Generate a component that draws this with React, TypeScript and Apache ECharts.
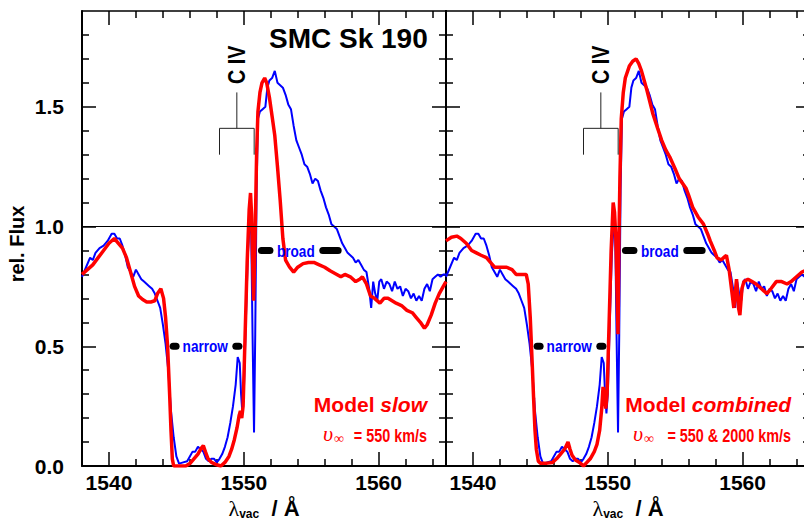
import React, { useEffect, useRef } from "react";
import * as echarts from "echarts";

// ---------- axes ----------
const X_MIN = 1538;
const X_MAX = 1565;
const Y_MIN = 0;
const Y_MAX = 1.9;
const xMajorTicks = [1540, 1550, 1560];
const xMinorTicks = [1538, 1542, 1544, 1546, 1548, 1552, 1554, 1556, 1558, 1562, 1564];
const yMajorTicks = [0, 0.5, 1.0, 1.5];
const yMinorTicks = [0.1, 0.2, 0.3, 0.4, 0.6, 0.7, 0.8, 0.9, 1.1, 1.2, 1.3, 1.4, 1.6, 1.7, 1.8];

// ---------- observed spectrum (blue) ----------
const observedWave = [
  1538.0, 1538.3, 1538.6, 1538.8, 1539.0, 1539.3, 1539.6, 1539.9, 1540.2, 1540.4,
  1540.6, 1540.8, 1541.0, 1541.2, 1541.4, 1541.6, 1541.8, 1542.0, 1542.2, 1542.4,
  1542.6, 1542.8, 1543.0, 1543.2, 1543.4, 1543.6, 1543.8, 1544.0, 1544.2, 1544.4,
  1544.6, 1544.8, 1545.0, 1545.2, 1545.5, 1545.8, 1546.0, 1546.2, 1546.4, 1546.6,
  1546.8, 1547.0, 1547.2, 1547.4, 1547.6, 1547.8, 1548.0, 1548.2, 1548.4, 1548.6,
  1548.8, 1549.0, 1549.2, 1549.4, 1549.55, 1549.7, 1549.8, 1549.9, 1550.0, 1550.15,
  1550.3, 1550.45, 1550.55, 1550.65, 1550.76, 1550.85, 1550.95, 1551.05, 1551.2, 1551.4,
  1551.6, 1551.75, 1551.9, 1552.1, 1552.3, 1552.5, 1552.7, 1552.9, 1553.1, 1553.3,
  1553.5, 1553.7, 1553.9, 1554.1, 1554.3, 1554.5, 1554.7, 1554.9, 1555.1, 1555.3,
  1555.5, 1555.7, 1555.9, 1556.1, 1556.3, 1556.5, 1556.7, 1556.9, 1557.1, 1557.3,
  1557.5, 1557.7, 1557.9, 1558.1, 1558.3, 1558.5, 1558.7, 1558.9, 1559.1, 1559.3,
  1559.45, 1559.6, 1559.75, 1559.9, 1560.05, 1560.2, 1560.4, 1560.6, 1560.8, 1561.0,
  1561.2, 1561.4, 1561.6, 1561.8, 1562.0, 1562.2, 1562.4, 1562.6, 1562.8, 1563.0,
  1563.2, 1563.4, 1563.6, 1563.8, 1564.0, 1564.2, 1564.4, 1564.6, 1564.8, 1565.0,
];
const observedFlux = [
  0.79, 0.83, 0.87, 0.86, 0.89, 0.91, 0.92, 0.94, 0.97, 0.97,
  0.95, 0.95, 0.92, 0.88, 0.83, 0.81, 0.79, 0.82, 0.80, 0.78,
  0.77, 0.76, 0.75, 0.74, 0.72, 0.69, 0.66, 0.59, 0.51, 0.40,
  0.23, 0.12, 0.04, 0.01, 0.015, 0.02, 0.04, 0.06, 0.06, 0.08,
  0.07, 0.06, 0.03, 0.02, 0.03, 0.03, 0.015, 0.03, 0.05, 0.08,
  0.12, 0.18, 0.25, 0.34, 0.455, 0.43, 0.30, 0.22, 0.30, 0.60,
  0.88, 1.02, 0.98, 0.55, 0.14, 0.55, 1.15, 1.45, 1.48, 1.49,
  1.50, 1.58, 1.61, 1.62, 1.65, 1.60, 1.59, 1.58, 1.55, 1.51,
  1.49, 1.42, 1.36, 1.33, 1.30, 1.26, 1.25, 1.22, 1.18, 1.20,
  1.19, 1.15, 1.12, 1.08, 1.05, 1.01, 1.00, 0.99, 0.96, 0.93,
  0.91, 0.89, 0.88, 0.87, 0.85, 0.86, 0.84, 0.82, 0.81, 0.74,
  0.66, 0.77, 0.72, 0.69, 0.77, 0.78, 0.74, 0.77, 0.76, 0.73,
  0.77, 0.74, 0.75, 0.71, 0.74, 0.73, 0.70, 0.72, 0.69, 0.71,
  0.69, 0.74, 0.76, 0.73, 0.78, 0.79, 0.80, 0.79, 0.80, 0.80,
];

// ---------- model "slow" (red, left panel) ----------
const slowWave = [
  1538.0, 1538.4, 1538.8, 1539.2, 1539.6, 1540.0, 1540.4, 1540.7, 1541.0, 1541.3,
  1541.6, 1541.9, 1542.2, 1542.5, 1542.8, 1543.1, 1543.4, 1543.6, 1543.85, 1544.05,
  1544.2, 1544.35, 1544.5, 1544.6, 1544.7, 1544.8, 1545.2, 1545.7, 1546.0, 1546.3,
  1546.6, 1546.85, 1547.0, 1547.15, 1547.35, 1547.6, 1548.0, 1548.3, 1548.6, 1548.9,
  1549.1, 1549.3, 1549.5, 1549.65, 1549.75, 1549.85, 1549.95, 1550.1, 1550.25, 1550.4,
  1550.5, 1550.58, 1550.66, 1550.73, 1550.8, 1550.87, 1550.95, 1551.05, 1551.2, 1551.35,
  1551.55, 1551.7, 1551.9, 1552.1, 1552.3, 1552.5, 1552.7, 1552.9, 1553.1, 1553.4,
  1553.7, 1554.0, 1554.4, 1554.8, 1555.2, 1555.6, 1556.0, 1556.4, 1556.9, 1557.2,
  1557.5, 1557.9, 1558.3, 1558.6, 1558.8, 1559.1, 1559.4, 1559.7, 1560.1, 1560.4,
  1560.7, 1561.0, 1561.3, 1561.7, 1562.1, 1562.5, 1562.8, 1563.1, 1563.4, 1563.6,
  1563.9, 1564.2, 1564.5, 1564.8, 1565.0,
];
const slowFlux = [
  0.80, 0.82, 0.84, 0.87, 0.90, 0.93, 0.95, 0.93, 0.91, 0.87,
  0.81, 0.75, 0.71, 0.695, 0.685, 0.685, 0.69, 0.72, 0.74, 0.70,
  0.62, 0.50, 0.30, 0.15, 0.03, 0.0, 0.0, 0.0, 0.01, 0.03,
  0.05, 0.075, 0.085, 0.06, 0.03, 0.015, 0.005, 0.0, 0.015, 0.04,
  0.07, 0.11, 0.16, 0.21, 0.23, 0.20, 0.25, 0.55, 0.85, 1.07,
  1.14, 1.05, 0.85, 0.69, 0.85, 1.05, 1.30, 1.48, 1.56, 1.60,
  1.62, 1.60, 1.54, 1.46, 1.38, 1.25, 1.11, 0.95, 0.86, 0.83,
  0.81, 0.83, 0.845, 0.85, 0.85, 0.84, 0.83, 0.815, 0.80, 0.79,
  0.80, 0.79, 0.77, 0.78, 0.79, 0.76, 0.71, 0.70, 0.68, 0.70,
  0.70, 0.69, 0.68, 0.67, 0.65, 0.64, 0.62, 0.60, 0.575, 0.59,
  0.63, 0.68, 0.72, 0.75, 0.77,
];

// ---------- model "combined" (red, right panel) ----------
const combinedWave = [
  1538.0, 1538.4, 1538.8, 1539.1, 1539.5, 1539.9, 1540.25, 1540.6, 1541.0, 1541.3,
  1541.6, 1542.0, 1542.5, 1542.9, 1543.2, 1543.6, 1543.95, 1544.1, 1544.25, 1544.4,
  1544.5, 1544.6, 1544.7, 1544.85, 1545.0, 1545.5, 1545.9, 1546.2, 1546.5, 1546.8,
  1547.05, 1547.2, 1547.35, 1547.6, 1547.9, 1548.2, 1548.45, 1548.7, 1549.0, 1549.2,
  1549.4, 1549.55, 1549.65, 1549.75, 1549.85, 1549.95, 1550.1, 1550.25, 1550.4, 1550.5,
  1550.6, 1550.7, 1550.76, 1550.83, 1550.9, 1551.0, 1551.15, 1551.3, 1551.6, 1551.85,
  1552.1, 1552.3, 1552.5, 1552.9, 1553.35, 1553.7, 1554.0, 1554.3, 1554.6, 1555.0,
  1555.3, 1555.8, 1556.0, 1556.3, 1556.7, 1557.1, 1557.4, 1557.6, 1557.9, 1558.1,
  1558.4, 1558.6, 1558.8, 1559.0, 1559.2, 1559.35, 1559.45, 1559.55, 1559.7, 1559.8,
  1559.95, 1560.1, 1560.4, 1560.7, 1561.0, 1561.4, 1561.8, 1562.1, 1562.5, 1562.9,
  1563.3, 1563.6, 1564.0, 1564.4, 1564.8, 1565.0,
];
const combinedFlux = [
  0.94, 0.955, 0.96, 0.95, 0.93, 0.90, 0.89, 0.88, 0.87, 0.85,
  0.83, 0.83, 0.83, 0.82, 0.80, 0.80, 0.80, 0.76, 0.62, 0.42,
  0.28, 0.15, 0.07, 0.02, 0.012, 0.012, 0.015, 0.03, 0.05, 0.07,
  0.10, 0.07, 0.045, 0.025, 0.015, 0.0, 0.015, 0.03, 0.06, 0.09,
  0.15, 0.24, 0.33, 0.30, 0.24, 0.30, 0.60, 0.90, 1.10, 1.06,
  0.95, 0.70, 0.55, 0.95, 1.20, 1.45, 1.56, 1.62, 1.67, 1.69,
  1.70, 1.68, 1.65, 1.57, 1.47, 1.41, 1.36, 1.32, 1.29, 1.24,
  1.20, 1.16, 1.13, 1.08, 1.04, 1.01, 0.97, 0.94, 0.90, 0.87,
  0.86, 0.87, 0.88, 0.82, 0.73, 0.66, 0.72, 0.78, 0.66, 0.63,
  0.74, 0.77, 0.78, 0.77, 0.76, 0.74, 0.72, 0.74, 0.77, 0.77,
  0.76, 0.77, 0.79, 0.81, 0.82, 0.82,
];

// ---------- annotations (data coordinates) ----------
const civLines = [1548.2, 1550.77];
const civBracketY = 1.41;
const civTickBottom = 1.3;
const civStemTop = 1.56;
const civLabelY = 1.675;
const narrowBars = [[1544.76, 1544.98], [1549.41, 1549.64]];
const narrowY = 0.5;
const narrowLabelX = 1547.14;
const broadBars = [[1551.31, 1551.94], [1555.86, 1557.0]];
const broadY = 0.9;
const broadLabelX = 1553.86;
const referenceLevel = 1.0;
const panelModels = ["slow", "combined"];
const panelSpeeds = ["550 km/s", "550 & 2000 km/s"];

const FONT = "'Liberation Sans', Arial, Helvetica, sans-serif";
const SERIF = "'Liberation Serif', 'Times New Roman', serif";
const NARROW_SCALE = 0.8;

const BLUE = "#0000ff";
const RED = "#ff0000";

const GRID_LEFT = [82, 446];
const GRID_TOP = 11;
const GRID_W = 364;
const GRID_H = 455;

function pairs(w: number[], f: number[]) {
  return w.map((x, i) => [x, f[i]]);
}

function buildAxes(g: number) {
  const tickStyle = { color: "#000", width: 1.5 };
  const common = { gridIndex: g, type: "value", min: X_MIN, max: X_MAX, splitLine: { show: false } };
  const xAxes = [
    {
      ...common,
      position: "bottom",
      axisLine: { show: true, onZero: false, lineStyle: { color: "#000", width: 2 } },
      axisTick: { show: true, inside: true, length: 14, lineStyle: tickStyle, customValues: xMajorTicks },
      axisLabel: {
        show: true,
        customValues: xMajorTicks,
        margin: 6,
        color: "#000",
        fontSize: 21,
        fontWeight: "bold",
        fontFamily: FONT,
        formatter: (v: number) => String(Math.round(v)),
      },
      name: "{l|λ}{s|vac}{a|  / Å}",
      nameLocation: "middle",
      nameGap: 31,
      nameTextStyle: {
        rich: {
          l: { fontFamily: SERIF, fontSize: 22, color: "#000", lineHeight: 22 },
          s: { fontFamily: FONT, fontSize: 12, fontWeight: "bold", color: "#000", verticalAlign: "bottom", lineHeight: 16 },
          a: { fontFamily: FONT, fontSize: 22, fontWeight: "bold", color: "#000", lineHeight: 22 },
        },
      },
    },
    {
      ...common,
      position: "bottom",
      axisLine: { show: false, onZero: false },
      axisTick: { show: true, inside: true, length: 7, lineStyle: tickStyle, customValues: xMinorTicks },
      axisLabel: { show: false },
    },
    {
      ...common,
      position: "top",
      axisLine: { show: true, onZero: false, lineStyle: { color: "#000", width: 1.5 } },
      axisTick: { show: true, inside: true, length: 14, lineStyle: tickStyle, customValues: xMajorTicks },
      axisLabel: { show: false },
    },
    {
      ...common,
      position: "top",
      axisLine: { show: false, onZero: false },
      axisTick: { show: true, inside: true, length: 7, lineStyle: tickStyle, customValues: xMinorTicks },
      axisLabel: { show: false },
    },
  ];
  const yc = { gridIndex: g, type: "value", min: Y_MIN, max: Y_MAX, splitLine: { show: false } };
  const yAxes = [
    {
      ...yc,
      position: "left",
      axisLine: { show: true, onZero: false, lineStyle: { color: "#000", width: 2 } },
      axisTick: { show: true, inside: true, length: 14, lineStyle: tickStyle, customValues: yMajorTicks },
      axisLabel: g === 0
        ? {
            show: true,
            customValues: yMajorTicks,
            margin: 18,
            color: "#000",
            fontSize: 21,
            fontWeight: "bold",
            fontFamily: FONT,
            formatter: (v: number) => v.toFixed(1),
          }
        : { show: false },
      name: g === 0 ? "rel. Flux" : "",
      nameLocation: "middle",
      nameGap: 55,
      nameTextStyle: { fontFamily: FONT, fontSize: 20, fontWeight: "bold", color: "#000", padding: [0, 11, 0, 0] },
    },
    {
      ...yc,
      position: "left",
      axisLine: { show: false, onZero: false },
      axisTick: { show: true, inside: true, length: 7, lineStyle: tickStyle, customValues: yMinorTicks },
      axisLabel: { show: false },
    },
    {
      ...yc,
      position: "right",
      axisLine: { show: true, onZero: false, lineStyle: { color: "#000", width: 2 } },
      axisTick: { show: true, inside: true, length: 14, lineStyle: tickStyle, customValues: yMajorTicks },
      axisLabel: { show: false },
    },
    {
      ...yc,
      position: "right",
      axisLine: { show: false, onZero: false },
      axisTick: { show: true, inside: true, length: 7, lineStyle: tickStyle, customValues: yMinorTicks },
      axisLabel: { show: false },
    },
  ];
  return { xAxes, yAxes };
}

function lineSeries(g: number, data: number[][], color: string, width: number, extra: any = {}) {
  return {
    type: "line",
    xAxisIndex: 4 * g,
    yAxisIndex: 4 * g,
    data,
    showSymbol: false,
    symbol: "none",
    silent: true,
    lineStyle: { color, width },
    itemStyle: { color },
    ...extra,
  };
}

function buildSeries(g: number, model: number[][]) {
  const s: any[] = [];
  s.push(
    lineSeries(g, pairs(observedWave, observedFlux), BLUE, 2, {
      markLine: {
        silent: true,
        symbol: ["none", "none"],
        label: { show: false },
        lineStyle: { color: "#000", width: 1, type: "solid" },
        data: [{ yAxis: referenceLevel }],
      },
    })
  );
  s.push(lineSeries(g, model, RED, 3.5, { z: 3 }));
  s.push(
    lineSeries(
      g,
      [
        [civLines[0], civTickBottom],
        [civLines[0], civBracketY],
        [civLines[1], civBracketY],
        [civLines[1], civTickBottom],
      ],
      "#222",
      1
    )
  );
  const mid = (civLines[0] + civLines[1]) / 2;
  s.push(lineSeries(g, [[mid, civBracketY], [mid, civStemTop]], "#222", 1));
  narrowBars.forEach((b) =>
    s.push(lineSeries(g, [[b[0], narrowY], [b[1], narrowY]], "#000", 7, { lineStyle: { color: "#000", width: 7, cap: "round" }, z: 4 }))
  );
  broadBars.forEach((b) =>
    s.push(lineSeries(g, [[b[0], broadY], [b[1], broadY]], "#000", 7, { lineStyle: { color: "#000", width: 7, cap: "round" }, z: 4 }))
  );
  return s;
}

function panelGraphics(chart: any, g: number) {
  const finder = { xAxisIndex: 4 * g, yAxisIndex: 4 * g };
  const px = (x: number, y: number) => chart.convertToPixel(finder, [x, y]) as number[];
  const mid = (civLines[0] + civLines[1]) / 2;
  const civ = px(mid, civLabelY);
  const nar = px(narrowLabelX, narrowY);
  const bro = px(broadLabelX, broadY);
  const right = GRID_LEFT[g] + GRID_W - 19;
  const vLeft = g === 0 ? 323 : 633;
  const out: any[] = [
    {
      type: "text",
      x: civ[0],
      y: civ[1],
      rotation: Math.PI / 2,
      scaleX: 0.82,
      silent: true,
      z: 10,
      style: { text: "C IV", fontFamily: FONT, fontSize: 24, fontWeight: "bold", fill: "#000", align: "center", verticalAlign: "middle" },
    },
    {
      type: "text",
      x: nar[0],
      y: nar[1],
      scaleX: NARROW_SCALE,
      silent: true,
      z: 10,
      style: { text: "narrow", fontFamily: FONT, fontSize: 17, fontWeight: "bold", fill: BLUE, align: "center", verticalAlign: "middle" },
    },
    {
      type: "text",
      x: bro[0],
      y: bro[1],
      scaleX: NARROW_SCALE,
      silent: true,
      z: 10,
      style: { text: "broad", fontFamily: FONT, fontSize: 17, fontWeight: "bold", fill: BLUE, align: "center", verticalAlign: "middle" },
    },
    {
      type: "text",
      x: right,
      y: 404.5,
      silent: true,
      z: 10,
      style: {
        text: "{a|Model }{b|" + panelModels[g] + "}",
        align: "right",
        verticalAlign: "middle",
        fill: RED,
        rich: {
          a: { fontFamily: FONT, fontSize: 21, fontWeight: "bold", fill: RED },
          b: { fontFamily: FONT, fontSize: 21, fontWeight: "bold", fontStyle: "italic", fill: RED },
        },
      },
    },
    {
      type: "text",
      x: vLeft,
      y: 433.5,
      silent: true,
      z: 10,
      style: { text: "υ", fontFamily: SERIF, fontSize: 22, fontStyle: "italic", fill: RED, align: "left", verticalAlign: "middle" },
    },
    {
      type: "text",
      x: vLeft + 11,
      y: 438,
      silent: true,
      z: 10,
      style: { text: "∞", fontFamily: SERIF, fontSize: 14, fill: RED, align: "left", verticalAlign: "middle" },
    },
    {
      type: "text",
      x: right,
      y: 435,
      scaleX: NARROW_SCALE,
      silent: true,
      z: 10,
      style: { text: "= " + panelSpeeds[g], fontFamily: FONT, fontSize: 18, fontWeight: "bold", fill: RED, align: "right", verticalAlign: "middle" },
    },
  ];
  return out;
}

export default function App() {
  const ref = useRef<HTMLDivElement>(null);
  useEffect(() => {
    if (!ref.current) return;
    const chart = echarts.init(ref.current, undefined, { renderer: "svg", width: 804, height: 521 });
    const a0 = buildAxes(0);
    const a1 = buildAxes(1);
    const option: any = {
      animation: false,
      backgroundColor: "#ffffff",
      grid: [
        { left: GRID_LEFT[0], top: GRID_TOP, width: GRID_W, height: GRID_H, containLabel: false, outerBoundsMode: "none" },
        { left: GRID_LEFT[1], top: GRID_TOP, width: GRID_W, height: GRID_H, containLabel: false, outerBoundsMode: "none" },
      ],
      xAxis: [...a0.xAxes, ...a1.xAxes],
      yAxis: [...a0.yAxes, ...a1.yAxes],
      series: [...buildSeries(0, pairs(slowWave, slowFlux)), ...buildSeries(1, pairs(combinedWave, combinedFlux))],
    };
    chart.setOption(option);
    const graphics: any[] = [
      {
        type: "text",
        x: 269,
        y: 38,
        silent: true,
        style: {
          text: "SMC Sk 190",
          fontFamily: FONT,
          fontSize: 28,
          fontWeight: "bold",
          fill: "#000",
          align: "left",
          verticalAlign: "middle",
        },
      },
      ...panelGraphics(chart, 0),
      ...panelGraphics(chart, 1),
    ];
    chart.setOption({ graphic: graphics });
    return () => chart.dispose();
  }, []);
  return (
    <div
      ref={ref}
      style={{ position: "fixed", left: 0, top: 0, width: 804, height: 521, overflow: "hidden", background: "#fff" }}
    />
  );
}
